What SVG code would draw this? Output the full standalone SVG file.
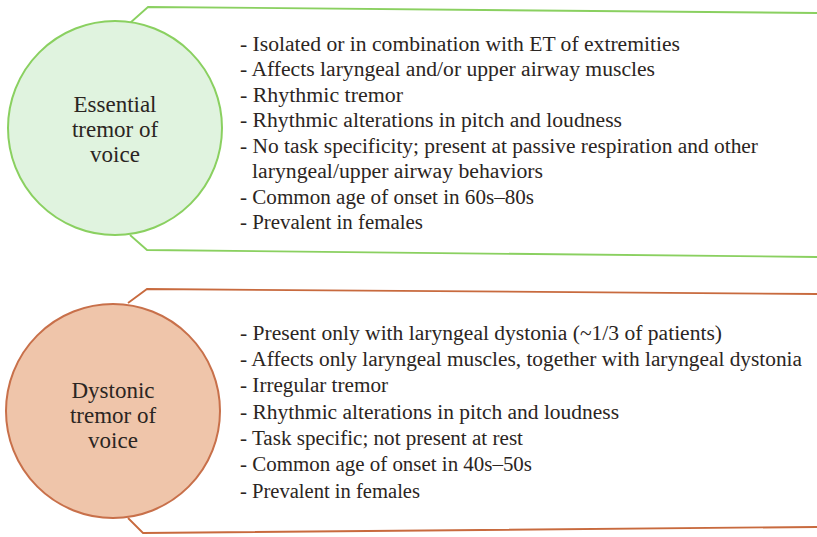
<svg xmlns="http://www.w3.org/2000/svg" width="817" height="537" viewBox="0 0 817 537">
<style>
.t{font-family:"Liberation Serif","Times New Roman",serif;font-size:20.5px;fill:#2b2522}
.c{font-family:"Liberation Serif","Times New Roman",serif;font-size:23px;fill:#2b2522;text-anchor:middle}
.g{fill:none;stroke:#8ad060;stroke-width:1.8}
.o{fill:none;stroke:#c86a3e;stroke-width:1.8}
</style>
<rect width="817" height="537" fill="#ffffff"/>
<g id="connectors">
<polyline class="g" points="130,23 148,7 817,13"/>
<polyline class="g" points="130,235 147,250 817,257"/>
<polyline class="o" points="128,303 147,289 817,294"/>
<polyline class="o" points="128,518 143,533 817,527"/>
</g>
<g id="essential">
<circle cx="115" cy="128" r="107" fill="#e0f3df" stroke="#8ad060" stroke-width="2"/>
<text class="c" x="115" y="112">Essential</text>
<text class="c" x="115" y="137">tremor of</text>
<text class="c" x="115" y="162">voice</text>
</g>
<g id="essential-list">
<text class="t" x="240" y="50.5" textLength="440" lengthAdjust="spacingAndGlyphs">- Isolated or in combination with ET of extremities</text>
<text class="t" x="240" y="76" textLength="415" lengthAdjust="spacingAndGlyphs">- Affects laryngeal and/or upper airway muscles</text>
<text class="t" x="240" y="101.5" textLength="163" lengthAdjust="spacingAndGlyphs">- Rhythmic tremor</text>
<text class="t" x="240" y="127" textLength="382" lengthAdjust="spacingAndGlyphs">- Rhythmic alterations in pitch and loudness</text>
<text class="t" x="240" y="152.5" textLength="518" lengthAdjust="spacingAndGlyphs">- No task specificity; present at passive respiration and other</text>
<text class="t" x="252" y="178" textLength="291" lengthAdjust="spacingAndGlyphs">laryngeal/upper airway behaviors</text>
<text class="t" x="240" y="203.5" textLength="294" lengthAdjust="spacingAndGlyphs">- Common age of onset in 60s–80s</text>
<text class="t" x="240" y="229" textLength="183" lengthAdjust="spacingAndGlyphs">- Prevalent in females</text>
</g>
<g id="dystonic">
<circle cx="113" cy="411" r="107" fill="#efc5aa" stroke="#c8704a" stroke-width="2"/>
<text class="c" x="113" y="398">Dystonic</text>
<text class="c" x="113" y="423">tremor of</text>
<text class="c" x="113" y="448">voice</text>
</g>
<g id="dystonic-list">
<text class="t" x="240" y="339.5" textLength="482" lengthAdjust="spacingAndGlyphs">- Present only with laryngeal dystonia (~1/3 of patients)</text>
<text class="t" x="240" y="365.8" textLength="562" lengthAdjust="spacingAndGlyphs">- Affects only laryngeal muscles, together with laryngeal dystonia</text>
<text class="t" x="240" y="392.1" textLength="148" lengthAdjust="spacingAndGlyphs">- Irregular tremor</text>
<text class="t" x="240" y="418.5" textLength="379" lengthAdjust="spacingAndGlyphs">- Rhythmic alterations in pitch and loudness</text>
<text class="t" x="240" y="444.8" textLength="283" lengthAdjust="spacingAndGlyphs">- Task specific; not present at rest</text>
<text class="t" x="240" y="471.1" textLength="292" lengthAdjust="spacingAndGlyphs">- Common age of onset in 40s–50s</text>
<text class="t" x="240" y="497.5" textLength="180" lengthAdjust="spacingAndGlyphs">- Prevalent in females</text>
</g>
</svg>
